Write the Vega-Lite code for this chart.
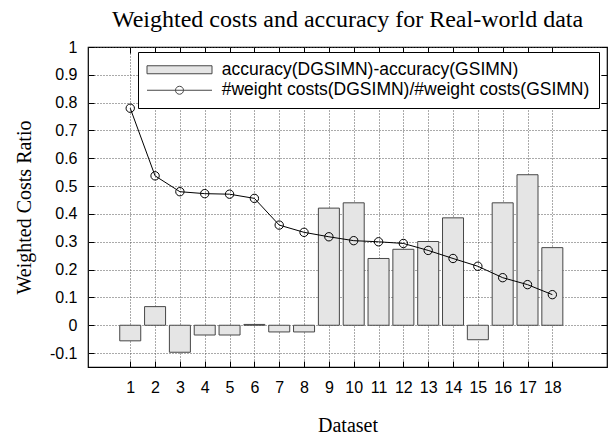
{
  "$schema": "https://vega.github.io/schema/vega-lite/v6.json",
  "width": 519,
  "height": 320,
  "autosize": {"type": "none"},
  "padding": {"left": 88, "top": 47, "right": 3, "bottom": 68},
  "background": "white",
  "title": {
    "text": "Weighted costs and accuracy for Real-world data",
    "font": "Liberation Serif",
    "fontSize": 24,
    "fontWeight": "normal",
    "color": "black",
    "anchor": "middle",
    "baseline": "alphabetic",
    "frame": "group",
    "offset": 19,
    "dy": 31
  },
  "config": {
    "view": {"stroke": "black", "strokeWidth": 1.2}
  },
  "data": {
    "values": [
      {"dataset": 1, "acc_diff": -0.056, "cost_ratio": 0.780},
      {"dataset": 2, "acc_diff": 0.067, "cost_ratio": 0.537},
      {"dataset": 3, "acc_diff": -0.097, "cost_ratio": 0.480},
      {"dataset": 4, "acc_diff": -0.035, "cost_ratio": 0.473},
      {"dataset": 5, "acc_diff": -0.035, "cost_ratio": 0.471},
      {"dataset": 6, "acc_diff": 0.003, "cost_ratio": 0.456},
      {"dataset": 7, "acc_diff": -0.024, "cost_ratio": 0.360},
      {"dataset": 8, "acc_diff": -0.024, "cost_ratio": 0.334},
      {"dataset": 9, "acc_diff": 0.421, "cost_ratio": 0.318},
      {"dataset": 10, "acc_diff": 0.440, "cost_ratio": 0.304},
      {"dataset": 11, "acc_diff": 0.240, "cost_ratio": 0.300},
      {"dataset": 12, "acc_diff": 0.273, "cost_ratio": 0.294},
      {"dataset": 13, "acc_diff": 0.301, "cost_ratio": 0.269},
      {"dataset": 14, "acc_diff": 0.386, "cost_ratio": 0.240},
      {"dataset": 15, "acc_diff": -0.052, "cost_ratio": 0.212},
      {"dataset": 16, "acc_diff": 0.440, "cost_ratio": 0.171},
      {"dataset": 17, "acc_diff": 0.541, "cost_ratio": 0.146},
      {"dataset": 18, "acc_diff": 0.279, "cost_ratio": 0.110}
    ]
  },
  "layer": [
    {
      "mark": {"type": "bar", "size": 21, "stroke": "#474747", "strokeWidth": 1},
      "encoding": {
        "x": {
          "field": "dataset",
          "type": "quantitative",
          "scale": {"domain": [-0.5, 20], "nice": false, "zero": false},
          "axis": {
            "orient": "bottom",
            "values": [1, 2, 3, 4, 5, 6, 7, 8, 9, 10, 11, 12, 13, 14, 15, 16, 17, 18],
            "grid": true,
            "gridDash": [1, 2],
            "gridColor": "#555",
            "gridWidth": 1,
            "domain": false,
            "ticks": false,
            "labelPadding": 12,
            "labelFont": "Liberation Sans",
            "labelFontSize": 16,
            "labelColor": "black",
            "title": "Dataset",
            "titleFont": "Liberation Serif",
            "titleFontSize": 20,
            "titleFontWeight": "normal",
            "titleColor": "black",
            "titleX": 259.5,
            "titleY": 64,
            "titleAlign": "center",
            "titleBaseline": "alphabetic"
          }
        },
        "y": {
          "field": "acc_diff",
          "type": "quantitative",
          "scale": {"domain": [-0.15, 1], "nice": false, "zero": false},
          "axis": {
            "orient": "left",
            "values": [-0.1, 0, 0.1, 0.2, 0.3, 0.4, 0.5, 0.6, 0.7, 0.8, 0.9, 1],
            "format": "~g",
            "labelExpr": "replace(datum.label, '−', '-')",
            "grid": true,
            "gridDash": [1, 2],
            "gridColor": "#555",
            "gridWidth": 1,
            "domain": false,
            "ticks": false,
            "labelPadding": 11,
            "labelFont": "Liberation Sans",
            "labelFontSize": 16,
            "labelColor": "black",
            "title": "Weighted Costs Ratio",
            "titleFont": "Liberation Serif",
            "titleFontSize": 20,
            "titleFontWeight": "normal",
            "titleColor": "black",
            "titleAngle": 270,
            "titleX": -58,
            "titleY": 160,
            "titleAlign": "center",
            "titleBaseline": "alphabetic"
          }
        },
        "color": {
          "datum": "accuracy(DGSIMN)-accuracy(GSIMN)",
          "scale": {
            "domain": ["accuracy(DGSIMN)-accuracy(GSIMN)", "#weight costs(DGSIMN)/#weight costs(GSIMN)"],
            "range": ["#e5e5e5", "transparent"]
          },
          "legend": {
            "orient": "none",
            "legendX": 50,
            "legendY": 5,
            "title": null,
            "direction": "vertical",
            "padding": 9,
            "fillColor": "white",
            "strokeColor": "black",
            "labelFont": "Liberation Sans",
            "labelFontSize": 17.5,
            "labelColor": "black",
            "labelLimit": 0,
            "symbolSize": 100,
            "symbolStrokeWidth": 1,
            "symbolOffset": 23.75,
            "labelOffset": 33.5,
            "rowPadding": 1.5,
            "symbolType": {"expr": "datum.value === 'accuracy(DGSIMN)-accuracy(GSIMN)' ? 'M-6.5,-0.8H6.5V0.8H-6.5Z' : 'M-6.5,0H6.5M0.8,0C0.8,0.4418,0.4418,0.8,0,0.8C-0.4418,0.8,-0.8,0.4418,-0.8,0C-0.8,-0.4418,-0.4418,-0.8,0,-0.8C0.4418,-0.8,0.8,-0.4418,0.8,0Z'"},
            "encode": {
              "symbols": {
                "stroke": {"value": {"expr": "datum.value === 'accuracy(DGSIMN)-accuracy(GSIMN)' ? '#474747' : 'black'"}},
                "strokeWidth": {"value": 1}
              }
            }
          }
        }
      }
    },
    {
      "mark": {"type": "line", "strokeWidth": 1, "stroke": "black"},
      "encoding": {
        "x": {
          "field": "dataset",
          "type": "quantitative",
          "axis": {
            "orient": "bottom",
            "offset": -320,
            "values": [1, 2, 3, 4, 5, 6, 7, 8, 9, 10, 11, 12, 13, 14, 15, 16, 17, 18],
            "labels": false,
            "grid": false,
            "domain": false,
            "ticks": true,
            "tickSize": 6,
            "tickWidth": 1,
            "tickColor": "black",
            "title": null
          }
        },
        "y": {
          "field": "cost_ratio",
          "type": "quantitative",
          "axis": {
            "orient": "left",
            "offset": -519,
            "values": [-0.1, 0, 0.1, 0.2, 0.3, 0.4, 0.5, 0.6, 0.7, 0.8, 0.9, 1],
            "labels": false,
            "grid": false,
            "domain": false,
            "ticks": true,
            "tickSize": 6,
            "tickWidth": 1,
            "tickColor": "black",
            "title": null
          }
        }
      }
    },
    {
      "mark": {"type": "point", "shape": "circle", "filled": false, "stroke": "black", "strokeWidth": 1, "size": 70, "opacity": 1},
      "encoding": {
        "x": {
          "field": "dataset",
          "type": "quantitative",
          "axis": {
            "orient": "top",
            "offset": -320,
            "values": [1, 2, 3, 4, 5, 6, 7, 8, 9, 10, 11, 12, 13, 14, 15, 16, 17, 18],
            "labels": false,
            "grid": false,
            "domain": false,
            "ticks": true,
            "tickSize": 6,
            "tickWidth": 1,
            "tickColor": "black",
            "title": null
          }
        },
        "y": {
          "field": "cost_ratio",
          "type": "quantitative",
          "axis": {
            "orient": "right",
            "offset": -519,
            "values": [-0.1, 0, 0.1, 0.2, 0.3, 0.4, 0.5, 0.6, 0.7, 0.8, 0.9, 1],
            "labels": false,
            "grid": false,
            "domain": false,
            "ticks": true,
            "tickSize": 6,
            "tickWidth": 1,
            "tickColor": "black",
            "title": null
          }
        }
      }
    }
  ],
  "resolve": {"axis": {"x": "independent", "y": "independent"}}
}
